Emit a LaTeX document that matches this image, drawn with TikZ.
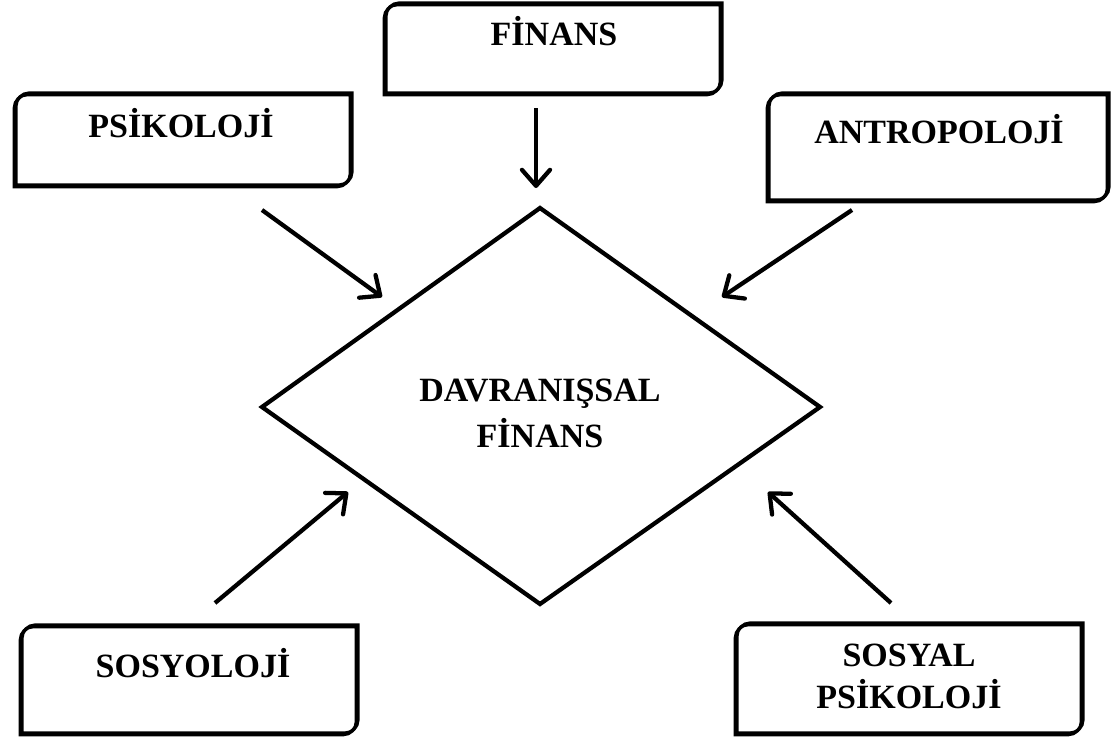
\documentclass[tikz,border=0pt]{standalone}
\usepackage{fontspec}
\setmainfont{Liberation Serif}
\usetikzlibrary{arrows.meta,fit}

\tikzset{
  px/.style={x=0.75pt,y=-0.75pt},
  panel/.style={draw=black,line width=2.4pt,line join=miter},
  boxfit/.style={inner sep=0pt,outer sep=0pt,draw=none},
  lbl/.style={font=\fontsize{25.5}{31}\selectfont\bfseries,anchor=base,inner sep=0pt,align=center},
  diam/.style={draw=black,line width=3.2pt,line join=miter},
  flow/.style={line width=3.2pt,-{Straight Barb[length=12pt,width=21pt,line width=3.2pt,line cap=round,line join=round]}}
}

% Panel outline: rounded top-left and bottom-right corners, sharp others
\newcommand\panelpath[4]{%
  (#1,#2+13) .. controls (#1,#2+6) and (#1+6,#2) .. (#1+13,#2)
  -- (#3,#2) -- (#3,#4-13)
  .. controls (#3,#4-6) and (#3-6,#4) .. (#3-13,#4)
  -- (#1,#4) -- cycle}
% Panel with a slight offset shadow towards the lower left
\newcommand\drawpanel[4]{%
  \draw[panel] ([xshift=-1.3pt,yshift=-1.3pt]0,0) \panelpath{#1-1.7}{#2+1.7}{#3-1.7}{#4+1.7};
  \draw[panel] \panelpath{#1}{#2}{#3}{#4};
}

\begin{document}
\begin{tikzpicture}[px]
\useasboundingbox (0,0) rectangle (1112,739);

% outer panels
\drawpanel{16}{93}{352}{185}
\drawpanel{386}{3}{722}{93}
\drawpanel{769}{93}{1109}{200}
\drawpanel{22}{625}{358}{733}
\drawpanel{737}{623}{1083}{733}
\node[boxfit,fit={(16,93) (352,185)}] (psi) {};
\node[boxfit,fit={(386,3) (722,93)}] (fin) {};
\node[boxfit,fit={(769,93) (1109,200)}] (ant) {};
\node[boxfit,fit={(22,625) (358,733)}] (sos) {};
\node[boxfit,fit={(737,623) (1083,733)}] (ssp) {};

% panel labels
\node[lbl] (psit) at (181,137) {PSİKOLOJİ};
\node[lbl] (fint) at (554,45) {FİNANS};
\node[lbl] (antt) at (939,143) {ANTROPOLOJİ};
\node[lbl] (sost) at (193,677) {SOSYOLOJİ};
\node[lbl] (sspt) at (909,708) {SOSYAL\\PSİKOLOJİ};

% central diamond
\coordinate (dt) at (540,208);
\coordinate (dr) at (820,407);
\coordinate (db) at (540,604);
\coordinate (dl) at (262,407);
\draw[diam] (dt) -- (dr) -- (db) -- (dl) -- cycle;
\node[lbl,font=\fontsize{25.5}{34}\selectfont\bfseries] (dft) at (540,447) {DAVRANIŞSAL\\FİNANS};

% arrows towards the centre
\coordinate (a1s) at (536,108); \coordinate (a1e) at (536,188);
\coordinate (a2s) at (262,210); \coordinate (a2e) at (382,297);
\coordinate (a3s) at (852,210); \coordinate (a3e) at (722,297);
\coordinate (a4s) at (215,603); \coordinate (a4e) at (348,492);
\coordinate (a5s) at (891,603); \coordinate (a5e) at (768,492);

\draw[flow] (a1s) -- (a1e);
\draw[flow] (a2s) -- (a2e);
\draw[flow] (a3s) -- (a3e);
\draw[flow] (a4s) -- (a4e);
\draw[flow] (a5s) -- (a5e);
\end{tikzpicture}
\end{document}
